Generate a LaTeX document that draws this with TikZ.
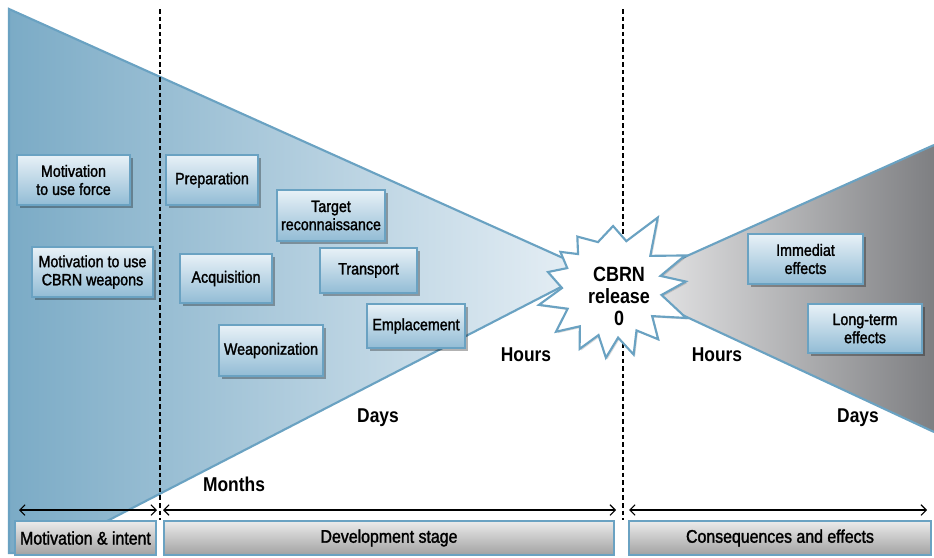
\documentclass[tikz,border=0pt]{standalone}
\usepackage{fontspec}
\setmainfont{Liberation Sans}[FakeStretch=0.87]
\newfontfamily\mediumface{Liberation Sans}[FakeStretch=0.87, FakeBold=1.6]
\usetikzlibrary{arrows.meta,shadows}
\definecolor{edgeblue}{HTML}{6AA2C2}
\definecolor{funnelL}{HTML}{7BABC6}
\definecolor{funnelR}{HTML}{E8F0F6}
\definecolor{greyL}{HTML}{EFEFF0}
\definecolor{greyR}{HTML}{7E7F82}
\definecolor{boxtop}{HTML}{E8F1F7}
\definecolor{boxbot}{HTML}{92BCD5}
\definecolor{bartop}{HTML}{EBEBEB}
\definecolor{barbot}{HTML}{A2A2A2}
\begin{document}
\begin{tikzpicture}[x=0.75pt,y=-0.75pt,
  sz/.style 2 args={minimum width={#1*0.75pt}, minimum height={#2*0.75pt}},
  stagebox/.style={draw=edgeblue, line width=1.5pt, top color=boxtop, bottom color=boxbot,
    inner sep=0pt, align=center, font=\mediumface\fontsize{12.3}{13.6}\selectfont,
    drop shadow={shadow xshift=2pt, shadow yshift=-2pt, fill=black, opacity=0.3}},
  phasebar/.style={draw=edgeblue, line width=1.5pt, top color=bartop, bottom color=barbot,
    inner sep=0pt, font=\mediumface\fontsize{13.7}{15}\selectfont},
  timelabel/.style={font=\fontsize{15}{17}\selectfont\bfseries},
  divider/.style={black, line width=0.8pt, dash pattern=on 3.5pt off 2.2pt},
  span/.style={black, line width=0.8pt, {Straight Barb[length=4pt,width=8pt]}-{Straight Barb[length=4pt,width=8pt]}},
  funnel/.style={draw=edgeblue, line width=1.6pt, line join=miter}]
\useasboundingbox (0,0) rectangle (934,557);

% funnel narrowing towards the release
\coordinate (ltop) at (9,9);
\coordinate (lapex) at (592,271);
\coordinate (lfoot) at (45,553);
\coordinate (lbase) at (9,553);
\draw[funnel, left color=funnelL, right color=funnelR] (ltop) -- (lapex) -- (lfoot) -- (lbase) -- cycle;

% funnel widening after the release
\coordinate (rapex) at (620,286);
\coordinate (rtop) at (934,145);
\coordinate (rbot) at (934,432);
\fill[left color=greyL, right color=greyR] (rtop) -- (rapex) -- (rbot) -- cycle;
\draw[funnel] (rtop) -- (rapex) -- (rbot);

% stage dividers
\coordinate (d1t) at (160,9);  \coordinate (d1b) at (160,520);
\coordinate (d2t) at (623,9);  \coordinate (d2b) at (623,520);
\draw[divider] (d1t) -- (d1b);
\draw[divider] (d2t) -- (d2b);

% release burst
\def\burstoutline{(355:74) -- (8:50) -- (22:80) -- (35:49) -- (48:69) -- (60:49)
  -- (72:70) -- (83:50) -- (95:70) -- (106:49) -- (118:69) -- (130:50) -- (142:71)
  -- (155:49) -- (167:75) -- (180:50) -- (194:66) -- (204:49) -- (215:63) -- (225:48)
  -- (236:62) -- (253:48) -- (271:62) -- (287:49) -- (303:84) -- (320:50) -- (336:80)
  -- (346:50) -- cycle}
\begin{scope}[shift={(612,288)}]
\fill[black, opacity=0.15, shift={(1.5,1.5)}] \burstoutline;
\draw[edgeblue, fill=white, line width=1.6pt, line join=miter, miter limit=20] \burstoutline;
\end{scope}
\node[font=\fontsize{15.5}{16.5}\selectfont\bfseries, align=center] (release) at (619,296) {CBRN\\release\\0};

% stage activities
\node[stagebox, sz={113}{50}] (mforce) at (73.5,180) {Motivation\\to use force};
\node[stagebox, sz={121}{50}] (mcbrn) at (92.5,272) {Motivation to use\\CBRN weapons};
\node[stagebox, sz={92}{50}] (prep) at (212,180) {Preparation};
\node[stagebox, sz={108}{51}] (recon) at (331,215.5) {Target\\reconnaissance};
\node[stagebox, sz={92}{49}] (acq) at (226,278.5) {Acquisition};
\node[stagebox, sz={97}{45}] (trans) at (368.5,270.5) {Transport};
\node[stagebox, sz={98}{44}] (empl) at (416,326) {Emplacement};
\node[stagebox, sz={104}{51}] (weap) at (271,350.5) {Weaponization};
\node[stagebox, sz={115}{50}] (immed) at (805.5,259) {Immediat\\effects};
\node[stagebox, sz={114}{49}] (longt) at (865,328.5) {Long-term\\effects};

% time scale labels
\node[timelabel] (hoursL) at (526,355) {Hours};
\node[timelabel] (daysL) at (378,418) {Days};
\node[timelabel] (months) at (234,484) {Months};
\node[timelabel] (hoursR) at (717,355) {Hours};
\node[timelabel] (daysR) at (858,418) {Days};

% stage spans
\coordinate (s1a) at (19,510);  \coordinate (s1b) at (157,510);
\coordinate (s2a) at (163,510); \coordinate (s2b) at (616,510);
\coordinate (s3a) at (629,510); \coordinate (s3b) at (927,510);
\draw[span] (s1a) -- (s1b);
\draw[span] (s2a) -- (s2b);
\draw[span] (s3a) -- (s3b);

% stage names
\node[phasebar, sz={141}{34}] (intent) at (85.5,538) {Motivation \& intent};
\node[phasebar, sz={450}{34}] (devel) at (389,538) {Development stage};
\node[phasebar, sz={302}{34}] (conseq) at (780,538) {Consequences and effects};
\end{tikzpicture}
\end{document}
